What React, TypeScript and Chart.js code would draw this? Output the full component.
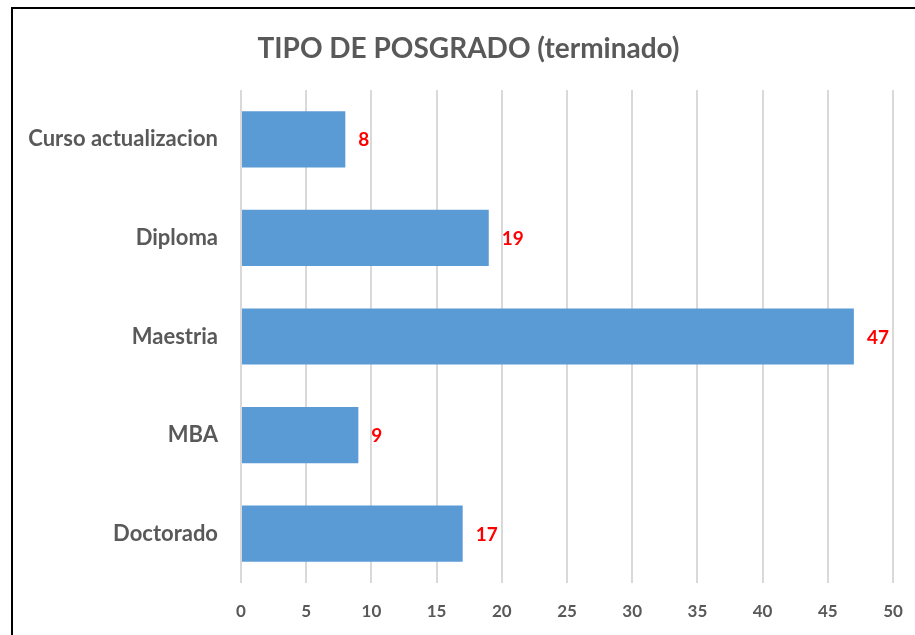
import React, { useEffect, useRef } from "react";
import { Chart, registerables } from "chart.js";

Chart.register(...registerables);

const titleText = "TIPO DE POSGRADO (terminado)";
const categories = ["Curso actualizacion", "Diploma", "Maestria", "MBA", "Doctorado"];
const values = [8, 19, 47, 9, 17];
const axisMin = 0;
const axisMax = 50;
const axisStep = 5;

const FONT = "Lato, 'Open Sans', sans-serif";
const GRAY = "#595959";

const valueLabels = {
  id: "valueLabels",
  afterDatasetsDraw(chart: any) {
    const ctx = chart.ctx;
    const meta = chart.getDatasetMeta(0);
    ctx.save();
    ctx.fillStyle = "#FF0000";
    ctx.font = `bold 19px ${FONT}`;
    ctx.textAlign = "left";
    ctx.textBaseline = "middle";
    meta.data.forEach((bar: any, i: number) => {
      ctx.fillText(String(chart.data.datasets[0].data[i]), bar.x + 13, bar.y + 1);
    });
    ctx.restore();
  },
};

const chartTitle = {
  id: "chartTitle",
  afterDraw(chart: any) {
    const ctx = chart.ctx;
    ctx.save();
    ctx.fillStyle = GRAY;
    ctx.font = `bold 28px ${FONT}`;
    ctx.textAlign = "center";
    ctx.textBaseline = "alphabetic";
    ctx.fillText(titleText, 455.5, 49);
    ctx.restore();
  },
};

export default function App() {
  const ref = useRef<HTMLCanvasElement | null>(null);

  useEffect(() => {
    if (!ref.current) return;
    const chart = new Chart(ref.current, {
      type: "bar",
      data: {
        labels: categories,
        datasets: [
          {
            data: values,
            backgroundColor: "#5B9BD5",
            borderWidth: 0,
            categoryPercentage: 1,
            barPercentage: 0.57,
          },
        ],
      },
      options: {
        indexAxis: "y",
        responsive: false,
        animation: false,
        devicePixelRatio: 1,
        layout: { padding: { left: 9, right: 22, top: 81, bottom: 0 } },
        plugins: {
          legend: { display: false },
          tooltip: { enabled: false },
          title: { display: false },
        },
        scales: {
          x: {
            min: axisMin,
            max: axisMax,
            ticks: {
              stepSize: axisStep,
              color: GRAY,
              font: { family: FONT, size: 17, weight: "bold", lineHeight: 3.06 },
              padding: 3,
            },
            grid: { color: "#D9D9D9", lineWidth: 2, drawTicks: false },
            border: { display: false },
            afterFit(scale: any) {
              scale.height = 52;
            },
          },
          y: {
            ticks: {
              color: GRAY,
              font: { family: FONT, size: 22, weight: "bold" },
              padding: 23,
            },
            grid: { display: false, drawTicks: false },
            border: { display: false },
            afterFit(scale: any) {
              scale.width = 219;
            },
          },
        },
      },
      plugins: [valueLabels, chartTitle],
    });
    return () => chart.destroy();
  }, []);

  return (
    <div
      style={{
        position: "fixed",
        left: 0,
        top: 0,
        width: 915,
        height: 635,
        overflow: "hidden",
        background: "#fff",
      }}
    >
      <div
        style={{
          position: "absolute",
          left: 11,
          top: 7,
          width: 904,
          height: 628,
          borderLeft: "2px solid #000",
          borderTop: "2px solid #000",
        }}
      />
      <canvas
        ref={ref}
        width={902}
        height={626}
        style={{ position: "absolute", left: 13, top: 9, width: 902, height: 626 }}
      />
    </div>
  );
}
